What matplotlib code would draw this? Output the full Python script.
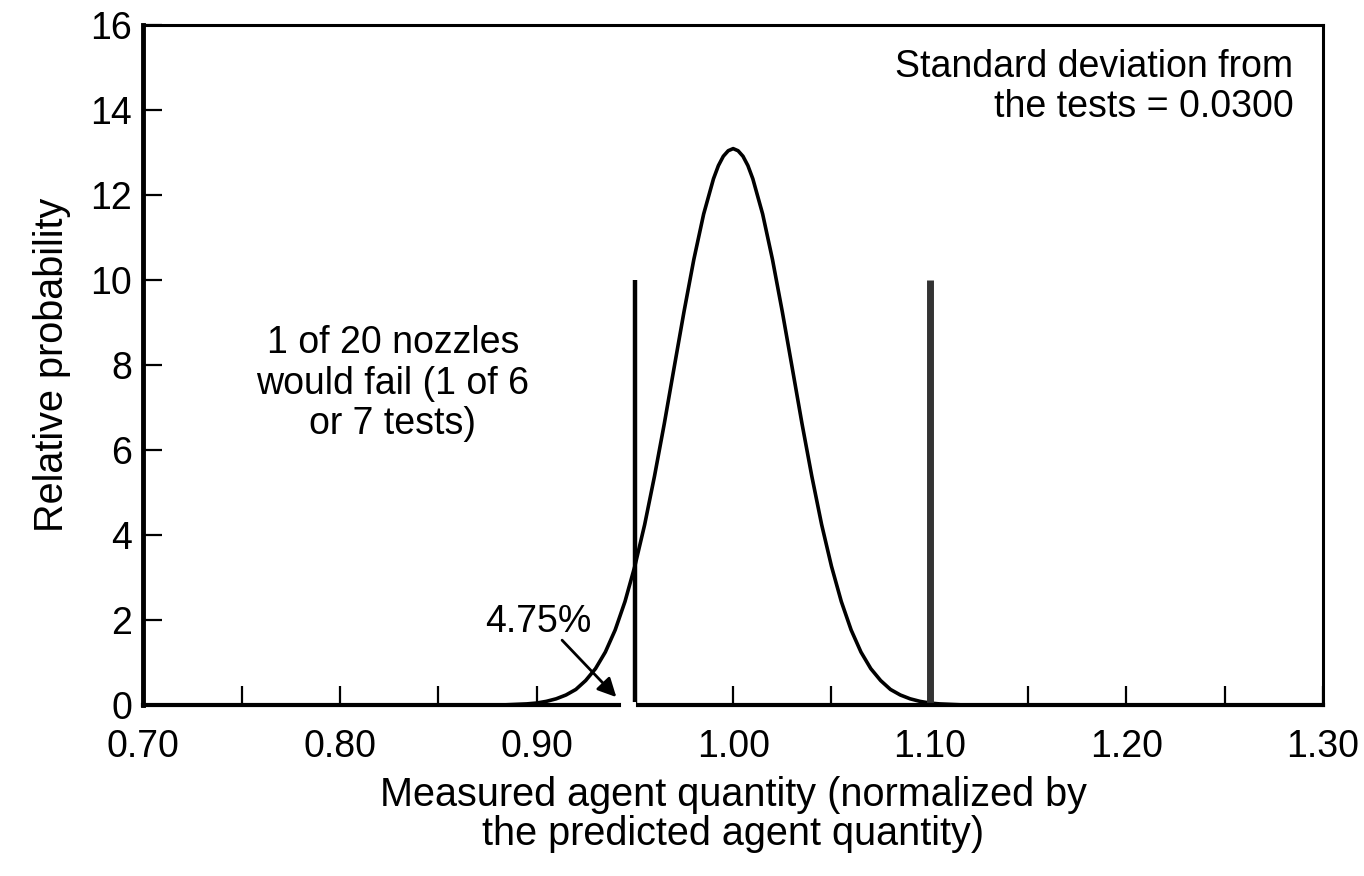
import matplotlib.pyplot as plt

plt.rcParams['font.family'] = ['Liberation Sans', 'DejaVu Sans']

# curve
qty = [0.70, 0.85, 0.88, 0.895, 0.90, 0.905, 0.91, 0.915, 0.92, 0.925, 0.93, 0.935,
       0.94, 0.945, 0.95, 0.955, 0.96, 0.965, 0.97, 0.975, 0.98, 0.985, 0.99, 0.9925,
       0.995, 0.9975, 1.00, 1.0025, 1.005, 1.0075, 1.01, 1.015, 1.02, 1.025, 1.03,
       1.035, 1.04, 1.045, 1.05, 1.055, 1.06, 1.065, 1.07, 1.075, 1.08, 1.085, 1.09,
       1.095, 1.10, 1.105, 1.12, 1.30]
prob = [0.0, 0.0, 0.0, 0.03, 0.05, 0.09, 0.15, 0.24, 0.37, 0.58, 0.86, 1.25,
        1.77, 2.44, 3.27, 4.25, 5.39, 6.63, 7.95, 9.26, 10.49, 11.56, 12.39, 12.70,
        12.92, 13.05, 13.10, 13.05, 12.92, 12.70, 12.39, 11.56, 10.49, 9.26, 7.95,
        6.63, 5.39, 4.25, 3.27, 2.44, 1.77, 1.25, 0.86, 0.58, 0.37, 0.24, 0.15,
        0.09, 0.05, 0.03, 0.0, 0.0]

limit_x = [0.95, 1.10]
limit_h = [10, 10]

fig = plt.figure(figsize=(13.64, 8.76), dpi=100)
ax = fig.add_axes([0.105, 0.195, 0.865, 0.776])

ax.plot(qty, prob, color='black', lw=2.6, solid_joinstyle='round')
ax.vlines(limit_x[0], 0, limit_h[0], color='black', lw=3.2)
ax.vlines(limit_x[1], 0, limit_h[1], color='#333333', lw=5)

ax.set_xlim(0.70, 1.30)
ax.set_ylim(0, 16)
ax.set_xticks([0.70, 0.80, 0.90, 1.00, 1.10, 1.20, 1.30])
ax.set_xticklabels(['0.70', '0.80', '0.90', '1.00', '1.10', '1.20', '1.30'])
ax.set_xticks([0.75, 0.85, 0.95, 1.05, 1.15, 1.25], minor=True)
ax.set_yticks(range(0, 17, 2))
ax.tick_params(axis='both', which='both', direction='in', length=14, width=1.6,
               labelsize=27)
ax.tick_params(axis='x', pad=17)
ax.tick_params(axis='y', pad=8)

for side, w in [('left', 3.5), ('bottom', 3.0), ('top', 2.2), ('right', 2.2)]:
    ax.spines[side].set_linewidth(w)

# small break in the baseline where the arrow points
ax.plot([0.9445, 0.9485], [0, 0], color='white', lw=5, clip_on=False, zorder=5)

ax.set_xlabel('Measured agent quantity (normalized by\nthe predicted agent quantity)',
              fontsize=28.5, labelpad=8, linespacing=1.05)
ax.set_ylabel('Relative probability', fontsize=28.5, labelpad=14)

ax.text(1.285, 15.45, 'Standard deviation from\nthe tests = 0.0300', fontsize=27,
        ha='right', va='top', linespacing=1.15)
ax.text(0.827, 7.57, '1 of 20 nozzles\nwould fail (1 of 6\nor 7 tests)', fontsize=27,
        ha='center', va='center', linespacing=1.15)
ax.text(0.901, 1.95, '4.75%', fontsize=27, ha='center', va='center')
ax.annotate('', xy=(0.9406, 0.19), xytext=(0.913, 1.53),
            arrowprops=dict(arrowstyle='-|>', color='black', lw=2, mutation_scale=28,
                            shrinkA=0, shrinkB=0))

fig.savefig('out.png', dpi=100, facecolor='white')
